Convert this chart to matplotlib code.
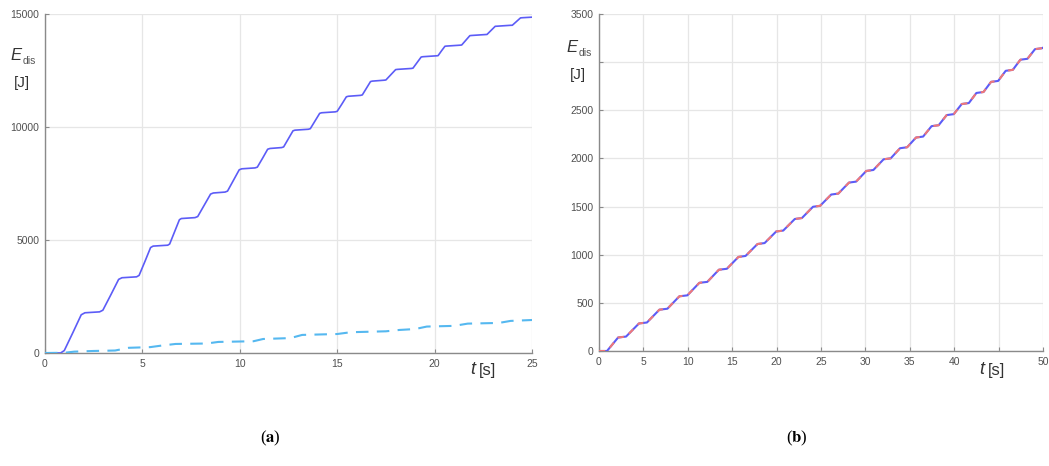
import matplotlib.pyplot as plt

# Dissipated energy, case (a): t [s] and E_dis [J]
t_a = [0, 0.8, 0.99, 1.43, 1.86, 2.05, 2.8, 2.97, 3.38, 3.78, 3.95, 4.7, 4.83, 5.13, 5.42,
       5.55, 6.3, 6.4, 6.65, 6.9, 7.0, 7.7, 7.84, 8.17, 8.5, 8.64, 9.24, 9.37, 9.67,
       9.97, 10.1, 10.78, 10.9, 11.17, 11.43, 11.55, 12.15, 12.25, 12.49, 12.73, 12.83,
       13.52, 13.62, 13.86, 14.1, 14.2, 14.9, 15.0, 15.24, 15.47, 15.57, 16.2, 16.29,
       16.5, 16.71, 16.8, 17.4, 17.5, 17.75, 18.0, 18.1, 18.8, 18.89, 19.1, 19.31,
       19.4, 20.1, 20.18, 20.35, 20.53, 20.6, 21.3, 21.39, 21.6, 21.81, 21.9, 22.6,
       22.69, 22.9, 23.11, 23.2, 23.9, 23.99, 24.2, 24.41, 24.5, 25.0]
e_a = [0, 0, 108, 900, 1692, 1780, 1820, 1893, 2575, 3257, 3330, 3370, 3434, 4050, 4666,
       4730, 4770, 4823, 5360, 5897, 5950, 5990, 6038, 6535, 7032, 7080, 7120, 7164, 7635,
       8106, 8150, 8190, 8224, 8620, 9016, 9050, 9090, 9119, 9475, 9831, 9860,
       9900, 9926, 10265, 10604, 10630, 10670, 10694, 11015, 11336, 11360, 11400, 11420,
       11715, 12010, 12030, 12070, 12081, 12310, 12539, 12550, 12590, 12604, 12850, 13096,
       13110, 13150, 13158, 13365, 13572, 13580, 13620, 13628, 13835, 14042, 14050, 14090,
       14095, 14275, 14455, 14460, 14500, 14502, 14665, 14828, 14835, 14860]

t_a2 = [0, 1.0, 1.5, 2.5, 3.6, 4.3, 5.4, 6.0, 6.7, 8.3, 8.9, 10.7, 11.2, 12.6, 13.2,
        15.0, 15.7, 17.5, 18.2, 19.0, 19.6, 21.0, 21.7, 23.3, 23.9, 25.0]
e_a2 = [0, 10, 60, 90, 110, 230, 260, 330, 400, 420, 490, 520, 620, 660, 800,
        840, 920, 960, 1020, 1060, 1170, 1200, 1300, 1330, 1420, 1460]

# Dissipated energy, case (b)
t_b = [0, 0.9, 2.15, 3.05, 4.5, 5.4, 6.8, 7.7, 9.05, 9.95, 11.3, 12.2, 13.5, 14.4,
       15.7, 16.5, 17.85, 18.65, 19.95, 20.75, 22.05, 22.85, 24.1, 24.9, 26.15, 26.95,
       28.15, 28.95, 30.1, 30.9, 32.05, 32.85, 33.9, 34.7, 35.7, 36.5, 37.45, 38.25,
       39.15, 39.95, 40.85, 41.65, 42.5, 43.3, 44.15, 44.95, 45.8, 46.6, 47.45, 48.25,
       49.1, 49.9, 50.0]
e_b = [0, 0, 140, 150, 286, 296, 429, 439, 568, 578, 708, 718, 844, 854,
       977, 987, 1111, 1121, 1241, 1251, 1371, 1381, 1498, 1508, 1625, 1635,
       1749, 1759, 1870, 1880, 1991, 2001, 2106, 2116, 2217, 2227, 2335, 2345,
       2450, 2460, 2565, 2575, 2680, 2690, 2795, 2805, 2910, 2920, 3025, 3035,
       3135, 3145, 3150]

xticks_a = [0, 5, 10, 15, 20, 25]
yticks_a = [0, 5000, 10000, 15000]
xticks_b = [0, 5, 10, 15, 20, 25, 30, 35, 40, 45, 50]
yticks_b = [0, 500, 1000, 1500, 2000, 2500, 3000, 3500]
xlabels_b = ['0', '5', '10', '15', '20', '25', '30', '35', '40', '', '50']
ylabels_b = ['0', '500', '1000', '1500', '2000', '2500', '', '3500']

plt.rcParams['font.family'] = ['Liberation Sans', 'DejaVu Sans']
plt.rcParams['mathtext.fontset'] = 'stix'

fig = plt.figure(figsize=(10.49, 4.66), dpi=100)
ax_a = fig.add_axes([45 / 1049, 113 / 466, 487 / 1049, 339 / 466])
ax_b = fig.add_axes([599 / 1049, 115 / 466, 444 / 1049, 337 / 466])

ax_a.plot(t_a, e_a, color='#5c5cf7', lw=1.2, zorder=3, solid_joinstyle='round')
ax_a.plot(t_a2, e_a2, color='#55b8f0', lw=1.5, ls=(0, (6, 4)), zorder=3)
ax_b.plot(t_b, e_b, color='#5c5cf7', lw=1.5, zorder=3, solid_joinstyle='round')
ax_b.plot(t_b, e_b, color='#f07878', lw=1.5, ls=(0, (3, 3)), zorder=4)


def style(ax, xt, yt, xmax, ymax):
    ax.set_xlim(0, xmax)
    ax.set_ylim(0, ymax)
    ax.set_xticks(xt)
    ax.set_yticks(yt)
    for s in ('top', 'right'):
        ax.spines[s].set_visible(False)
    for s in ('left', 'bottom'):
        ax.spines[s].set_color('#8a8a8a')
        ax.spines[s].set_linewidth(1.0)
    ax.tick_params(direction='in', length=3, width=0.8, colors='#8a8a8a',
                   labelcolor='#505050', labelsize=7.5, pad=4)
    ax.grid(True, color='#e6e6e6', lw=0.9)
    ax.set_axisbelow(True)


style(ax_a, xticks_a, yticks_a, 25, 15000)
style(ax_b, xticks_b, yticks_b, 50, 3500)
ax_b.set_xticklabels(xlabels_b)
ax_b.set_yticklabels(ylabels_b)

# axis captions placed by hand, MATLAB style
for x0, y0 in ((10, 56), (566, 48)):
    fig.text(x0 / 1049, 1 - y0 / 466, 'E', fontsize=12, style='italic',
             color='#333333', ha='left', va='center')
    fig.text((x0 + 13) / 1049, 1 - (y0 + 5) / 466, 'dis', fontsize=7.5,
             color='#555555', ha='left', va='center')
    fig.text((x0 + 4) / 1049, 1 - (y0 + 27) / 466, '[J]', fontsize=11,
             color='#333333', ha='left', va='center')

for x0 in (470, 979):
    fig.text(x0 / 1049, 1 - 370 / 466, 't', fontsize=13, style='italic',
             color='#333333', ha='left', va='center')
    fig.text((x0 + 9) / 1049, 1 - 370 / 466, '[s]', fontsize=12,
             color='#333333', ha='left', va='center')

for xc, lab in ((270, 'a'), (797, 'b')):
    fig.text(xc / 1049, 1 - 438 / 466, r'($\mathbf{%s}$)' % lab, fontsize=12,
             family='Liberation Serif', ha='center', va='center')

fig.savefig('out.png', dpi=100)
